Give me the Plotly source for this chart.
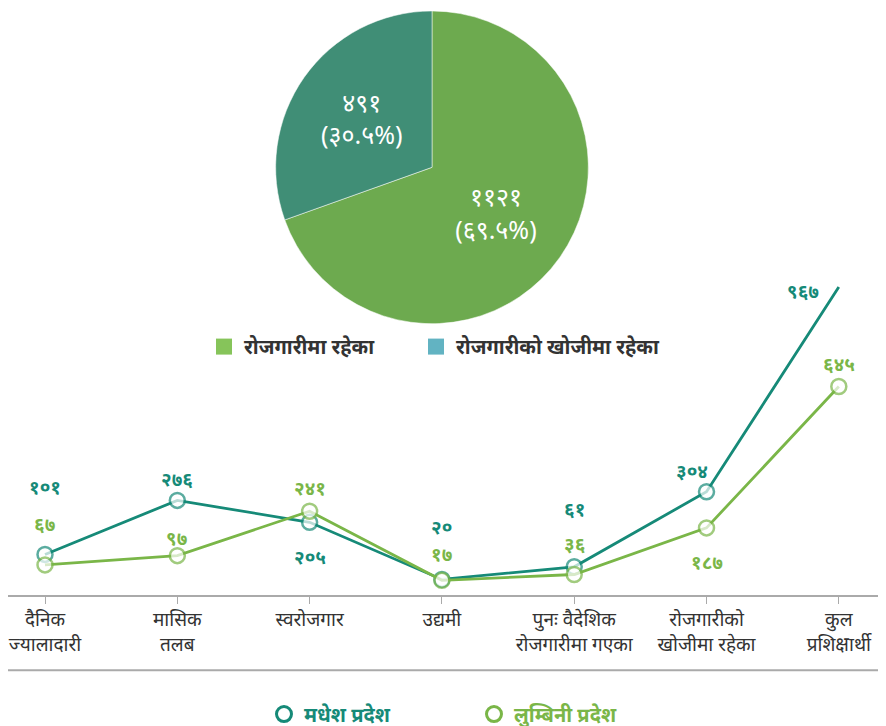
import plotly.graph_objects as go

# pie data
pie_labels = ['रोजगारीमा रहेका', 'रोजगारीको खोजीमा रहेका']
pie_values = [1121, 491]
pie_text = ['११२१<br>(६९.५%)', '४९१<br>(३०.५%)']

# line data
categories = ['दैनिक<br>ज्यालादारी', 'मासिक<br>तलब', 'स्वरोजगार', 'उद्यमी',
              'पुनः वैदेशिक<br>रोजगारीमा गएका', 'रोजगारीको<br>खोजीमा रहेका', 'कुल<br>प्रशिक्षार्थी']
madhesh = [101, 276, 205, 20, 61, 304, 967]
lumbini = [67, 97, 241, 17, 36, 187, 645]
madhesh_txt = ['१०१', '२७६', '२०५', '२०', '६१', '३०४', '९६७']
lumbini_txt = ['६७', '९७', '२४१', '१७', '३६', '१८७', '६४५']

# label offsets (px) - styling only
madhesh_dy = [67, 21, -35, 52, 58, 21, -4]
madhesh_dx = [0, 0, 0, 0, 0, -15, -36]
lumbini_dy = [41, 18, 23, 26, 30, -34, 22]

TEAL = '#168a78'
GREEN = '#7ab648'
PIE_COLORS = ['#6daa4f', '#408e76']
KEY_COLORS = ['#86c45a', '#62b3c2']
FONT = 'Noto Sans, sans-serif'
W, H = 878, 726  # page has an 8px left body margin


def px(p):
    # page pixel column -> paper fraction
    return (p - 8) / W


def py(p):
    # page pixel row -> paper fraction
    return 1 - p / H


fig = go.Figure()

fig.add_trace(go.Pie(
    labels=pie_labels, values=pie_values, text=pie_text,
    textinfo='text', textposition='inside', insidetextorientation='horizontal',
    textfont=dict(color='white', size=25, family=FONT),
    marker=dict(colors=PIE_COLORS, line=dict(color='white', width=0.5)),
    sort=False, direction='clockwise', rotation=0,
    domain=dict(x=[px(275), px(589)], y=[py(317), py(3)]),
    showlegend=False, hoverinfo='label+value'))

# pie keys, one legend each so they sit where the reference has them
for lab, col, lg in zip(pie_labels, KEY_COLORS, ['legend', 'legend3']):
    fig.add_trace(go.Scatter(
        x=[None], y=[None], mode='markers', name=lab, legend=lg,
        marker=dict(size=16, symbol='square', color=col)))

x = list(range(len(categories)))
for vals, col, nm, lg in [(madhesh, TEAL, 'मधेश प्रदेश', 'legend2'),
                          (lumbini, GREEN, 'लुम्बिनी प्रदेश', 'legend4')]:
    sizes = [15] * len(vals)
    if vals is madhesh:
        sizes[-1] = 0
    fig.add_trace(go.Scatter(
        x=x, y=vals, mode='lines+markers', showlegend=False,
        line=dict(color=col, width=2.8),
        marker=dict(size=sizes, symbol='circle', color='white', line=dict(color=col, width=2.5)),
        cliponaxis=False))
    fig.add_trace(go.Scatter(
        x=[None], y=[None], mode='markers', legend=lg,
        name=f'<span style="color:{col}">{nm}</span>',
        marker=dict(size=15, symbol='circle-open', color=col, line=dict(width=3))))

for i in x:
    fig.add_annotation(x=i, y=madhesh[i], text=madhesh_txt[i], showarrow=False,
                       xshift=madhesh_dx[i], yshift=madhesh_dy[i],
                       font=dict(color=TEAL, size=19, family=FONT, weight='bold'))
    fig.add_annotation(x=i, y=lumbini[i], text=lumbini_txt[i], showarrow=False,
                       yshift=lumbini_dy[i],
                       font=dict(color=GREEN, size=19, family=FONT, weight='bold'))

fig.add_shape(type='line', xref='paper', yref='paper', x0=0, x1=1,
              y0=py(665), y1=py(665), line=dict(color='#aaaaaa', width=2))

leg_common = dict(orientation='h', xanchor='left', yanchor='middle', bgcolor='rgba(0,0,0,0)')
key_font = dict(size=20, color='#333333', family=FONT, weight='bold')

fig.update_layout(
    width=W, height=H, margin=dict(l=0, r=0, t=0, b=0),
    paper_bgcolor='white', plot_bgcolor='rgba(0,0,0,0)',
    font=dict(family=FONT, color='#333333'),
    xaxis=dict(domain=[0, 1], range=[-0.2797, 6.3567], tickmode='array', tickvals=x,
               ticktext=categories, showgrid=False, zeroline=False,
               showline=True, linecolor='#aaaaaa', linewidth=2,
               ticks='outside', ticklen=7, tickcolor='#aaaaaa', tickwidth=1,
               ticklabeloverflow='allow',
               tickfont=dict(size=19, color='#333333', family=FONT)),
    yaxis=dict(domain=[py(589), py(270)], range=[-29, 1000], visible=False),
    legend=dict(x=px(204), y=py(340), font=key_font, **leg_common),
    legend3=dict(x=px(416), y=py(340), font=key_font, **leg_common),
    legend2=dict(x=px(264), y=py(709), font=dict(size=20, family=FONT, weight='bold'), **leg_common),
    legend4=dict(x=px(474), y=py(709), font=dict(size=20, family=FONT, weight='bold'), **leg_common),
)

fig.write_html('out.html')
